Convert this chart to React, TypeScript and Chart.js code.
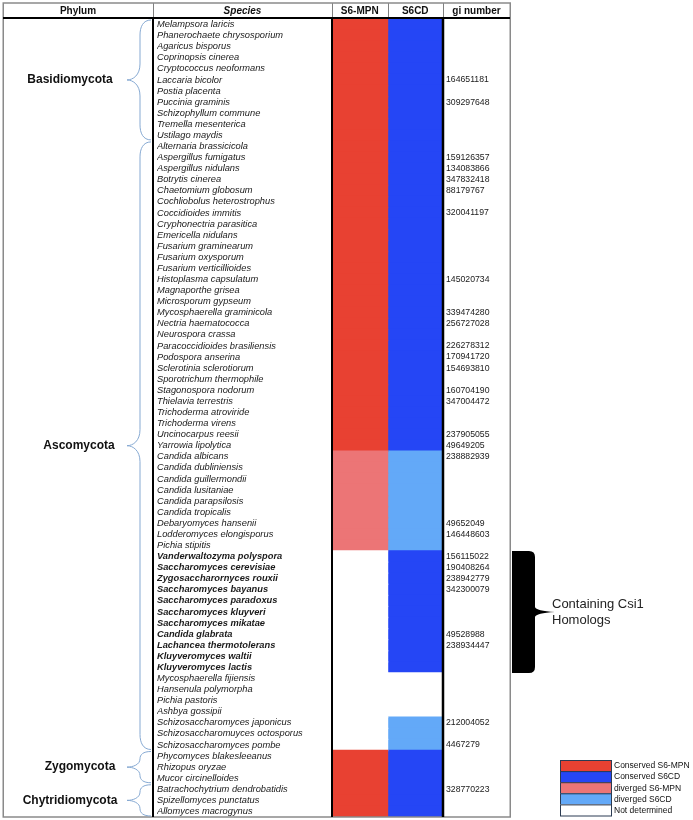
import React, { useEffect, useRef } from "react";
import { Chart, registerables } from "chart.js";

Chart.register(...registerables);

// ---------- data ----------
const species = [
  "Melampsora laricis", "Phanerochaete chrysosporium", "Agaricus bisporus", "Coprinopsis cinerea",
  "Cryptococcus neoformans", "Laccaria bicolor", "Postia placenta", "Puccinia graminis",
  "Schizophyllum commune", "Tremella mesenterica", "Ustilago maydis",
  "Alternaria brassicicola", "Aspergillus fumigatus", "Aspergillus nidulans", "Botrytis cinerea",
  "Chaetomium globosum", "Cochliobolus heterostrophus", "Coccidioides immitis", "Cryphonectria parasitica",
  "Emericella nidulans", "Fusarium graminearum", "Fusarium oxysporum", "Fusarium verticillioides",
  "Histoplasma capsulatum", "Magnaporthe grisea", "Microsporum gypseum", "Mycosphaerella graminicola",
  "Nectria haematococca", "Neurospora crassa", "Paracoccidioides brasiliensis", "Podospora anserina",
  "Sclerotinia sclerotiorum", "Sporotrichum thermophile", "Stagonospora nodorum", "Thielavia terrestris",
  "Trichoderma atroviride", "Trichoderma virens", "Uncinocarpus reesii", "Yarrowia lipolytica",
  "Candida albicans", "Candida dubliniensis", "Candida guillermondii", "Candida lusitaniae",
  "Candida parapsilosis", "Candida tropicalis", "Debaryomyces hansenii", "Lodderomyces elongisporus",
  "Pichia stipitis",
  "Vanderwaltozyma polyspora", "Saccharomyces cerevisiae", "Zygosaccharornyces rouxii", "Saccharomyces bayanus",
  "Saccharomyces paradoxus", "Saccharomyces kluyveri", "Saccharomyces mikatae", "Candida glabrata",
  "Lachancea thermotolerans", "Kluyveromyces waltii", "Kluyveromyces lactis",
  "Mycosphaerella fijiensis", "Hansenula polymorpha", "Pichia pastoris", "Ashbya gossipii",
  "Schizosaccharomyces japonicus", "Schizosaccharomuyces octosporus", "Schizosaccharomyces pombe",
  "Phycomyces blakesleeanus", "Rhizopus oryzae", "Mucor circinelloides",
  "Batrachochytrium dendrobatidis", "Spizellomyces punctatus", "Allomyces macrogynus",
];

const giNumbers = [
  "", "", "", "", "", "164651181", "", "309297648", "", "", "",
  "", "159126357", "134083866", "347832418", "88179767", "", "320041197", "", "", "", "", "",
  "145020734", "", "", "339474280", "256727028", "", "226278312", "170941720", "154693810", "",
  "160704190", "347004472", "", "", "237905055", "49649205",
  "238882939", "", "", "", "", "", "49652049", "146448603", "",
  "156115022", "190408264", "238942779", "342300079", "", "", "", "49528988", "238934447", "", "",
  "", "", "", "", "212004052", "", "4467279",
  "", "", "",
  "328770223", "", "",
];

// C = conserved, D = diverged, N = not determined
const s6mpnStatus = [
  "C", "C", "C", "C", "C", "C", "C", "C", "C", "C", "C",
  "C", "C", "C", "C", "C", "C", "C", "C", "C", "C", "C", "C", "C", "C",
  "C", "C", "C", "C", "C", "C", "C", "C", "C", "C", "C", "C", "C", "C",
  "D", "D", "D", "D", "D", "D", "D", "D", "D",
  "N", "N", "N", "N", "N", "N", "N", "N", "N", "N", "N",
  "N", "N", "N", "N", "N", "N", "N",
  "C", "C", "C",
  "C", "C", "C",
];

const s6cdStatus = [
  "C", "C", "C", "C", "C", "C", "C", "C", "C", "C", "C",
  "C", "C", "C", "C", "C", "C", "C", "C", "C", "C", "C", "C", "C", "C",
  "C", "C", "C", "C", "C", "C", "C", "C", "C", "C", "C", "C", "C", "C",
  "D", "D", "D", "D", "D", "D", "D", "D", "D",
  "C", "C", "C", "C", "C", "C", "C", "C", "C", "C", "C",
  "N", "N", "N", "N", "D", "D", "D",
  "C", "C", "C",
  "C", "C", "C",
];

const csi1Species = [
  "Vanderwaltozyma polyspora", "Saccharomyces cerevisiae", "Zygosaccharornyces rouxii",
  "Saccharomyces bayanus", "Saccharomyces paradoxus", "Saccharomyces kluyveri", "Saccharomyces mikatae",
  "Candida glabrata", "Lachancea thermotolerans", "Kluyveromyces waltii", "Kluyveromyces lactis",
];

const phyla = ["Basidiomycota", "Ascomycota", "Zygomycota", "Chytridiomycota"];
const phylumCounts = [11, 55, 3, 3];

const headers = ["Phylum", "Species", "S6-MPN", "S6CD", "gi number"];

const legendLabels = ["Conserved S6-MPN", "Conserved S6CD", "diverged S6-MPN", "diverged S6CD", "Not determined"];

// ---------- styles ----------
const mpnColors: Record<string, string> = { C: "#E84132", D: "#EC7576", N: "#FFFFFF" };
const cdColors: Record<string, string> = { C: "#2546F5", D: "#63A9F8", N: "#FFFFFF" };
const legendColors = [mpnColors.C, cdColors.C, mpnColors.D, cdColors.D, "#FFFFFF"];
const FONT = "'Liberation Sans', Arial, sans-serif";

const tablePlugin = {
  id: "tableDecor",
  afterDraw(chart: any) {
    const ctx: CanvasRenderingContext2D = chart.ctx;
    const ys = chart.scales.y;
    const area = chart.chartArea;
    const band = ys.getPixelForValue(1) - ys.getPixelForValue(0);
    const rowTop = (i: number) => ys.getPixelForValue(i) - band / 2;

    const L = 3, R = 510, T = 3, B = area.bottom;
    const colX = [L, 153, area.left, (area.left + area.right) / 2, area.right, R];
    const headBottom = area.top - 1;

    ctx.save();
    // header dividers
    ctx.strokeStyle = "#808080";
    ctx.lineWidth = 1;
    for (let i = 1; i < colX.length - 1; i++) {
      ctx.beginPath();
      ctx.moveTo(Math.round(colX[i]) + 0.5, T);
      ctx.lineTo(Math.round(colX[i]) + 0.5, headBottom);
      ctx.stroke();
    }
    // header text
    ctx.fillStyle = "#111";
    ctx.textAlign = "center";
    ctx.textBaseline = "middle";
    headers.forEach((h, i) => {
      ctx.font = (h === "Species" ? "italic " : "") + "bold 10px " + FONT;
      ctx.fillText(h, (colX[i] + colX[i + 1]) / 2, (T + headBottom) / 2 + 0.5);
    });

    // outer border
    ctx.strokeStyle = "#8a8a8a";
    ctx.lineWidth = 1.5;
    ctx.strokeRect(L + 0.25, T, R - L, B - T);

    // thick lines
    ctx.strokeStyle = "#000";
    ctx.lineWidth = 2;
    ctx.beginPath();
    ctx.moveTo(L, headBottom);
    ctx.lineTo(R, headBottom);
    ctx.stroke();
    [[153, 2], [area.left, 2], [area.right, 2.5]].forEach(([x, w]) => {
      ctx.lineWidth = w;
      ctx.beginPath();
      ctx.moveTo(x, headBottom);
      ctx.lineTo(x, B);
      ctx.stroke();
    });

    // phylum labels + braces
    const labelX = [70, 79, 80, 70];
    let start = 0;
    phyla.forEach((p, k) => {
      const top = rowTop(start);
      const bottom = rowTop(start + phylumCounts[k]);
      const mid = (top + bottom) / 2;
      ctx.fillStyle = "#111";
      ctx.font = "bold 12px " + FONT;
      ctx.textAlign = "center";
      ctx.textBaseline = "middle";
      ctx.fillText(p, labelX[k], mid);

      const endX = 151, spineX = 140, tipX = 127;
      const r = Math.min(16, (bottom - top) / 4);
      ctx.strokeStyle = "#86A9D2";
      ctx.lineWidth = 1;
      ctx.beginPath();
      ctx.moveTo(endX, top + 1);
      ctx.bezierCurveTo(spineX + 3, top + 1, spineX, top + r * 0.5, spineX, top + r);
      ctx.lineTo(spineX, mid - r);
      ctx.bezierCurveTo(spineX, mid - r * 0.3, tipX + 6, mid, tipX, mid);
      ctx.bezierCurveTo(tipX + 6, mid, spineX, mid + r * 0.3, spineX, mid + r);
      ctx.lineTo(spineX, bottom - r);
      ctx.bezierCurveTo(spineX, bottom - r * 0.5, spineX + 3, bottom - 1, endX, bottom - 1);
      ctx.stroke();
      start += phylumCounts[k];
    });

    // Csi1 bracket
    const csiIdx = species.map((s, i) => (csi1Species.includes(s) ? i : -1)).filter((i) => i >= 0);
    const cTop = rowTop(csiIdx[0]);
    const cBot = rowTop(csiIdx[csiIdx.length - 1] + 1);
    const cMid = (cTop + cBot) / 2;
    ctx.fillStyle = "#000";
    ctx.beginPath();
    ctx.moveTo(512, cTop);
    ctx.lineTo(529, cTop);
    ctx.quadraticCurveTo(535, cTop, 535, cTop + 6);
    ctx.lineTo(535, cMid - 5);
    ctx.quadraticCurveTo(536, cMid - 1, 555, cMid);
    ctx.quadraticCurveTo(536, cMid + 1, 535, cMid + 5);
    ctx.lineTo(535, cBot - 6);
    ctx.quadraticCurveTo(535, cBot, 529, cBot);
    ctx.lineTo(512, cBot);
    ctx.closePath();
    ctx.fill();
    ctx.fillStyle = "#222";
    ctx.font = "13px " + FONT;
    ctx.textAlign = "left";
    ctx.textBaseline = "middle";
    ctx.fillText("Containing Csi1", 552, cMid - 8);
    ctx.fillText("Homologs", 552, cMid + 8);

    // legend
    const lx = 560, ly = 760, lw = 51, lh = 11.1;
    legendLabels.forEach((lab, i) => {
      const y = ly + i * lh;
      ctx.fillStyle = legendColors[i];
      ctx.fillRect(lx, y, lw, lh);
      ctx.strokeStyle = "#2b3b52";
      ctx.lineWidth = 1;
      ctx.strokeRect(lx + 0.5, y + 0.5, lw, lh);
      ctx.fillStyle = "#111";
      ctx.font = "8.5px " + FONT;
      ctx.textAlign = "left";
      ctx.textBaseline = "middle";
      ctx.fillText(lab, lx + lw + 3, y + lh / 2 + 0.5);
    });
    ctx.restore();
  },
};

export default function App() {
  const ref = useRef<HTMLCanvasElement | null>(null);
  useEffect(() => {
    if (!ref.current) return;
    const chart = new Chart(ref.current, {
      type: "bar",
      data: {
        labels: species,
        datasets: [
          {
            label: "S6-MPN",
            data: s6mpnStatus.map(() => [0, 1]) as any,
            backgroundColor: s6mpnStatus.map((s) => mpnColors[s]),
            borderWidth: 0,
            barPercentage: 1,
            categoryPercentage: 1,
            inflateAmount: 0.7,
            grouped: false,
          },
          {
            label: "S6CD",
            data: s6cdStatus.map(() => [1, 2]) as any,
            backgroundColor: s6cdStatus.map((s) => cdColors[s]),
            borderWidth: 0,
            barPercentage: 1,
            categoryPercentage: 1,
            inflateAmount: 0.7,
            grouped: false,
          },
        ],
      },
      options: {
        indexAxis: "y",
        animation: false,
        responsive: false,
        devicePixelRatio: 1,
        layout: { padding: { left: 157, right: 0, top: 19, bottom: 3 } },
        plugins: { legend: { display: false }, tooltip: { enabled: false } },
        scales: {
          x: { type: "linear", min: 0, max: 2, display: false },
          y: {
            type: "category",
            position: "left",
            grid: { display: false, drawTicks: false },
            border: { display: false },
            ticks: {
              autoSkip: false,
              crossAlign: "far",
              padding: 0,
              color: "#1a1a1a",
              font: (c: any) => ({
                family: FONT,
                size: 9.3,
                style: "italic",
                weight: csi1Species.includes(species[c.index]) ? "bold" : "normal",
              }),
            },
            afterFit: (s: any) => {
              s.width = 332 - 157;
              s.paddingTop = 0;
              s.paddingBottom = 0;
            },
          },
          y2: {
            type: "category",
            position: "right",
            labels: giNumbers,
            offset: true,
            grid: { display: false, drawTicks: false },
            border: { display: false },
            ticks: { autoSkip: false, padding: 3, color: "#1a1a1a", font: { family: FONT, size: 8.7 } },
            afterFit: (s: any) => {
              s.width = 693 - 443;
              s.paddingTop = 0;
              s.paddingBottom = 0;
            },
          },
        },
      } as any,
      plugins: [tablePlugin],
    });
    return () => chart.destroy();
  }, []);
  return (
    <div style={{ position: "fixed", left: 0, top: 0, width: 693, height: 820, background: "#fff" }}>
      <canvas ref={ref} width={693} height={820} style={{ display: "block" }} />
    </div>
  );
}
